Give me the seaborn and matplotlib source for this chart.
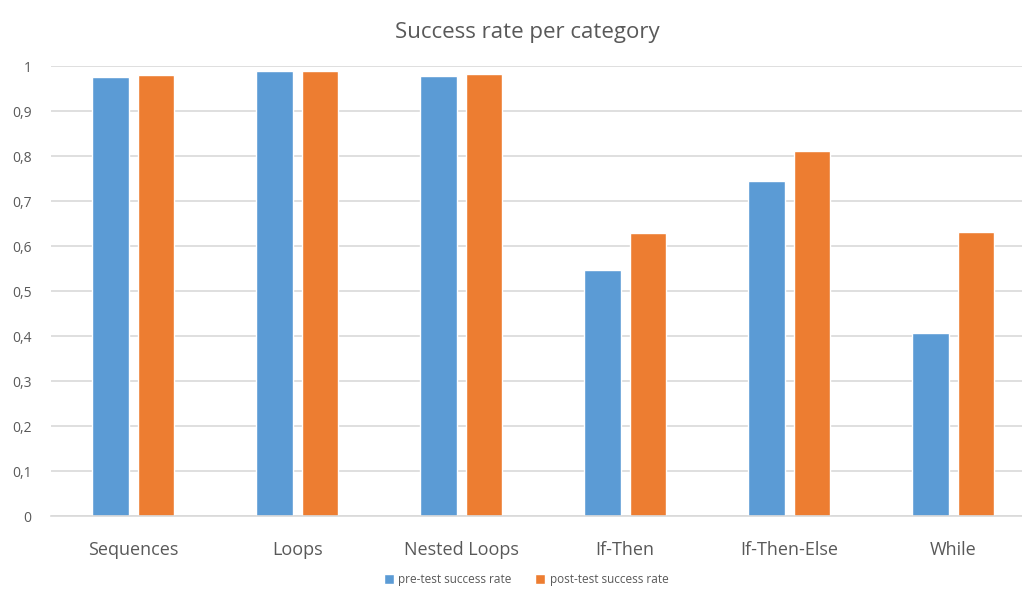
"""Success rate per category: pre-test vs post-test grouped bars."""

import matplotlib

matplotlib.use("Agg")
import matplotlib.pyplot as plt
import pandas as pd
import seaborn as sns

categories = ["Sequences", "Loops", "Nested Loops", "If-Then", "If-Then-Else", "While"]
pre_test = [0.975, 0.989, 0.978, 0.547, 0.744, 0.408]
post_test = [0.979, 0.989, 0.982, 0.630, 0.811, 0.631]
series_names = ["pre-test success rate", "post-test success rate"]
y_ticks = [0.0, 0.1, 0.2, 0.3, 0.4, 0.5, 0.6, 0.7, 0.8, 0.9, 1.0]

frame = pd.DataFrame(
    {
        "category": categories * 2,
        "rate": pre_test + post_test,
        "series": [series_names[0]] * len(categories) + [series_names[1]] * len(categories),
    }
)

sns.set_style("white")
plt.rcParams["font.family"] = ["Open Sans", "DejaVu Sans"]
text_color = "#595959"

fig = plt.figure(figsize=(10.22, 5.92), dpi=100)
ax = fig.add_axes([0.05, 0.128, 0.95, 0.7605])

sns.barplot(
    data=frame,
    x="category",
    y="rate",
    hue="series",
    palette=["#5B9BD5", "#ED7D31"],
    saturation=1,
    width=0.56,
    gap=0.2,
    ax=ax,
    legend=True,
)

ax.set_xlim(-0.5, 5.42)
ax.set_ylim(0, 1.0)
ax.set_yticks(y_ticks)
ax.set_yticklabels([f"{v:g}".replace(".", ",") for v in y_ticks])
ax.yaxis.grid(True, color="#D9D9D9", linewidth=1.2)
ax.set_axisbelow(True)
for side in ["top", "right", "left"]:
    ax.spines[side].set_visible(False)
ax.spines["bottom"].set_color("#D9D9D9")
ax.spines["bottom"].set_linewidth(1.2)
ax.tick_params(axis="y", length=0, labelsize=10, labelcolor=text_color, pad=14)
ax.tick_params(axis="x", length=0, labelsize=13, labelcolor=text_color, pad=18)
ax.set_xlabel("")
ax.set_ylabel("")

handles, labels = ax.get_legend_handles_labels()
ax.legend_.remove()
fig.legend(
    handles,
    labels,
    loc="lower center",
    bbox_to_anchor=(0.515, -0.008),
    ncol=2,
    frameon=False,
    fontsize=8.5,
    labelcolor=text_color,
    handlelength=0.8,
    handleheight=0.8,
    handletextpad=0.4,
    columnspacing=2.0,
)

fig.text(0.516, 0.945, "Success rate per category", ha="center", va="center",
         fontsize=16, color=text_color)

plt.savefig("out.png", dpi=100)
plt.close()
